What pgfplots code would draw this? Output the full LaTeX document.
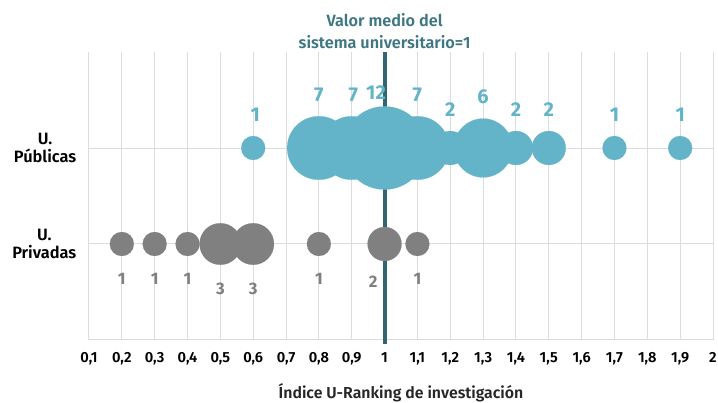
\documentclass[border=0pt]{standalone}
\usepackage{fontspec}
\setmainfont{Fira Sans}[BoldFont={Fira Sans SemiBold}]
\newfontfamily\heavy{Fira Sans Bold}
\usepackage{pgfplots}
\pgfplotsset{compat=1.18}

\definecolor{pub}{HTML}{63B4C8}
\definecolor{priv}{HTML}{808080}
\definecolor{refline}{HTML}{2F6670}
\definecolor{ttl}{HTML}{3E7682}
\definecolor{gridc}{HTML}{DCDCDC}

% bubbles: x = index, n = universities
\pgfplotstableread{
x   y n
0.6 2 1
0.8 2 7
0.9 2 7
1.0 2 12
1.1 2 7
1.2 2 2
1.3 2 6
1.4 2 2
1.5 2 2
1.7 2 1
1.9 2 1
}\publicas
\pgfplotstableread{
x   y n
0.2 1 1
0.3 1 1
0.4 1 1
0.5 1 3
0.6 1 3
0.8 1 1
1.0 1 2
1.1 1 1
}\privadas
% count labels
\pgfplotstableread{
x     y     lab
0.606 2.347 1
0.80  2.558 7
0.905 2.558 7
0.974 2.58  12
1.10  2.558 7
1.20  2.40  2
1.30  2.537 6
1.40  2.40  2
1.50  2.40  2
1.70  2.347 1
1.90  2.347 1
}\publab
\pgfplotstableread{
x     y     lab
0.20  0.642 1
0.30  0.642 1
0.40  0.642 1
0.50  0.537 3
0.60  0.537 3
0.80  0.642 1
0.965 0.61  2
1.10  0.642 1
}\privlab

\pgfplotsset{bubble/.style={
  scatter, only marks, mark=*, color=#1,
  mark options={draw=#1, fill=#1, line width=0.1pt},
  scatter/use mapped color={draw=#1, fill=#1},
  visualization depends on={9*sqrt(\thisrow{n}) \as \msize},
  scatter/@pre marker code/.append style={/tikz/mark size=\msize},
}}

\begin{document}
\begin{tikzpicture}
\useasboundingbox (-66.75pt,-47.25pt) rectangle (471.75pt,255pt);
\begin{axis}[
  at={(0,0)}, anchor=south west,
  scale only axis,
  width=468pt, height=216pt,
  xmin=0.1, xmax=2, ymin=0, ymax=3,
  clip=false,
  axis line style={draw=none},
  xtick={0.1,0.2,0.3,0.4,0.5,0.6,0.7,0.8,0.9,1,1.1,1.2,1.3,1.4,1.5,1.6,1.7,1.8,1.9,2},
  ytick={1,2},
  yticklabels={{U.\\Privadas},{U.\\Públicas}},
  major tick length=0pt,
  grid=major,
  major grid style={draw=gridc, line width=0.75pt},
  /pgf/number format/assume math mode=true,
  /pgf/number format/use comma,
  /pgf/number format/fixed,
  /pgf/number format/precision=1,
  xticklabel style={font=\fontsize{11}{12}\selectfont\bfseries, text=black, yshift=-6pt},
  yticklabel style={font=\fontsize{12.3}{14}\selectfont\bfseries, align=center, text=black, xshift=-6pt},
  xlabel={Índice U-Ranking de investigación},
  xlabel style={font=\fontsize{11.9}{13}\selectfont\bfseries, text=black!85, yshift=-7pt},
]
\draw[gridc, line width=0.75pt] (axis cs:0.1,0) -- (axis cs:2,0);
\addplot[bubble=pub] table[x=x, y=y, meta=n] {\publicas};
\addplot[bubble=priv] table[x=x, y=y, meta=n] {\privadas};
\addplot[refline, line width=3pt, mark=none] coordinates {(1,-0.04) (1,3)};
\addplot[only marks, mark=none, nodes near coords, point meta=explicit symbolic,
  every node near coord/.style={anchor=center, text=pub, font=\heavy\fontsize{15}{16}\selectfont}]
  table[x=x, y=y, meta=lab] {\publab};
\addplot[only marks, mark=none, nodes near coords, point meta=explicit symbolic,
  every node near coord/.style={anchor=center, text=priv, font=\heavy\fontsize{12.5}{13}\selectfont}]
  table[x=x, y=y, meta=lab] {\privlab};
\node[anchor=south, align=center, text=ttl, font=\fontsize{12.2}{16.5}\selectfont\bfseries, inner sep=2pt]
  at (axis cs:1,3) {Valor medio del\\sistema universitario=1};
\end{axis}
\end{tikzpicture}
\end{document}
